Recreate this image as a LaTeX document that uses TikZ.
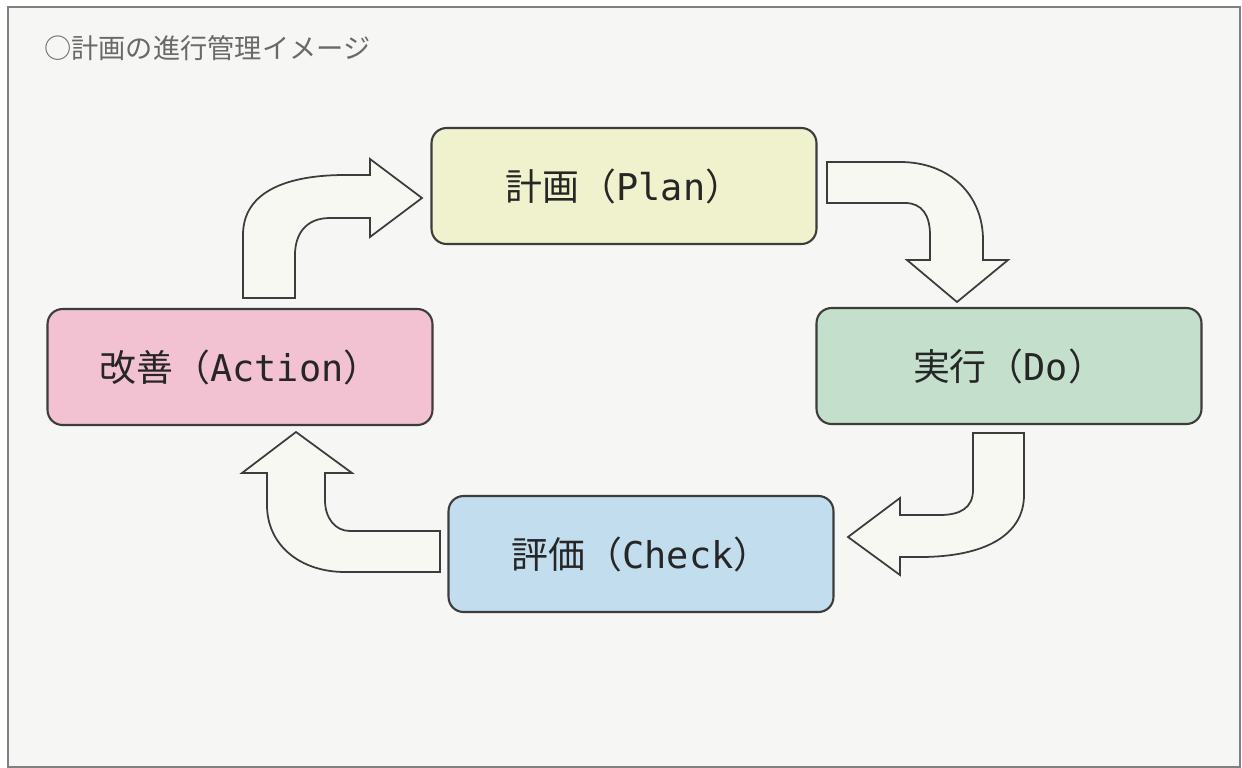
\documentclass[tikz,border=0pt]{standalone}
\usepackage{fontspec}
\setmainfont{Noto Sans CJK JP}
\newfontfamily\latinmono{DejaVu Sans Mono}
\usetikzlibrary{positioning}
\definecolor{bgpaper}{RGB}{246,246,245}
\definecolor{planfill}{RGB}{239,242,204}
\definecolor{dofill}{RGB}{196,224,204}
\definecolor{checkfill}{RGB}{194,221,238}
\definecolor{actfill}{RGB}{242,194,210}
\definecolor{inkgray}{RGB}{60,60,60}
\definecolor{textink}{RGB}{38,38,38}
\definecolor{titlegray}{RGB}{105,105,105}
\definecolor{arrowfill}{RGB}{248,248,243}
\newcommand{\phaselabel}[2]{#1（{\latinmono #2}）}

\begin{document}
\begin{tikzpicture}[x=0.02cm,y=-0.02cm,
        phase/.style={draw=inkgray,line width=1.2pt,rounded corners=0.3cm,
            minimum width=7.7cm,minimum height=2.32cm,
            font=\fontsize{21}{25}\selectfont,text=textink},
        blockarrow/.style={draw=inkgray,line width=1pt,fill=arrowfill,
            line join=miter}]
        \useasboundingbox (0,0) rectangle (1242,768);
        \fill[white] (0,0) rectangle (1242,768);
        \draw[fill=bgpaper,draw=gray,line width=1.2pt] (8,7) rectangle (1240,767);
        \node[anchor=west,font=\fontsize{15.5}{18}\selectfont,text=titlegray]
            at (38,48) (title) {○計画の進行管理イメージ};

        \node[phase,fill=planfill]  at (624,186) (plan)   {\phaselabel{計画}{Plan}};
        \node[phase,fill=dofill]    at (1009,366) (do)    {\phaselabel{実行}{Do}};
        \node[phase,fill=checkfill] at (641,554) (check)  {\phaselabel{評価}{Check}};
        \node[phase,fill=actfill]   at (240,367) (action) {\phaselabel{改善}{Action}};

        % action -> plan
        \draw[blockarrow] (243,298) -- (243,235)
            .. controls (243,190) and (290,175) .. (345,175) -- (370,175)
            -- (370,159) -- (422,198) -- (370,237) -- (370,218) -- (330,218)
            .. controls (305,218) and (295,235) .. (295,255) -- (295,298) -- cycle;
        % plan -> do
        \draw[blockarrow] (827,162) -- (900,162)
            .. controls (950,162) and (983,195) .. (983,240) -- (983,260)
            -- (1008,260) -- (957,302) -- (907,260) -- (930,260) -- (930,235)
            .. controls (930,215) and (922,203) .. (905,203) -- (827,203) -- cycle;
        % do -> check
        \draw[blockarrow] (973,433) -- (973,490)
            .. controls (973,508) and (960,515) .. (940,515) -- (900,515)
            -- (900,498) -- (848,537) -- (900,575) -- (900,557) -- (920,557)
            .. controls (985,557) and (1024,535) .. (1024,495) -- (1024,433) -- cycle;
        % check -> action
        \draw[blockarrow] (440,531) -- (350,531)
            .. controls (335,531) and (325,518) .. (325,500) -- (325,473)
            -- (352,473) -- (296,432) -- (242,473) -- (267,473) -- (267,505)
            .. controls (267,545) and (300,572) .. (345,572) -- (440,572) -- cycle;
\end{tikzpicture}
\end{document}
